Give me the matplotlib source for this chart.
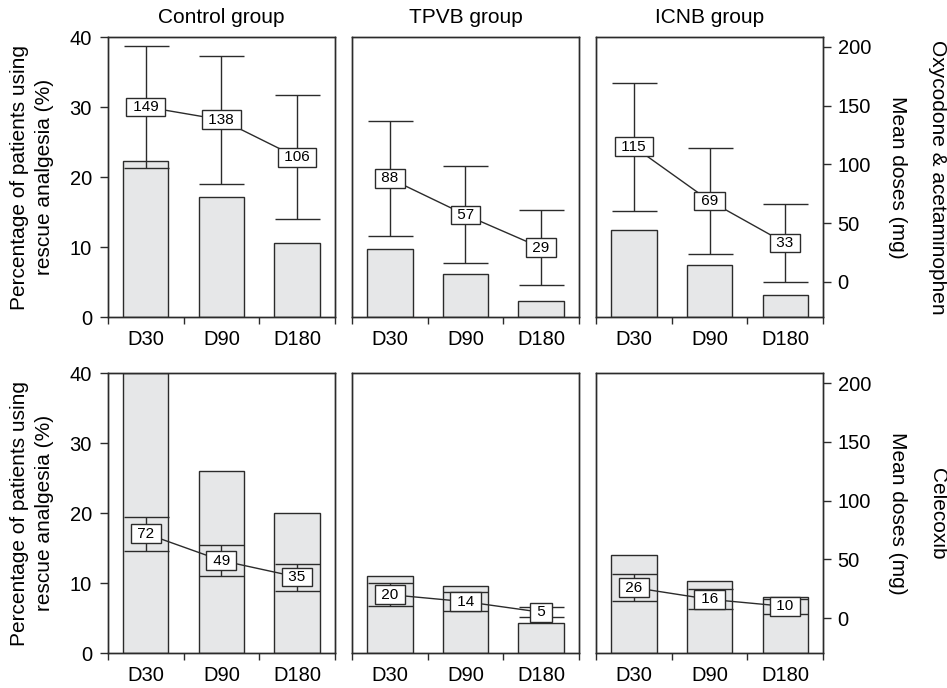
import matplotlib
matplotlib.use("Agg")
import matplotlib.pyplot as plt

plt.rcParams['font.family'] = ['Liberation Sans', 'DejaVu Sans']

# categories
groups = ["Control group", "TPVB group", "ICNB group"]
days = ["D30", "D90", "D180"]

# row 1: oxycodone & acetaminophen
top_pct = [[22.3, 17.1, 10.6], [9.7, 6.1, 2.3], [12.4, 7.4, 3.1]]
top_dose = [[149, 138, 106], [88, 57, 29], [115, 69, 33]]
top_sd = [[51.7, 54.5, 52.8], [49.0, 41.3, 32.0], [54.5, 45.0, 33.4]]

# row 2: celecoxib
bot_pct = [[40.0, 26.0, 20.1], [11.1, 9.6, 4.4], [14.1, 10.4, 8.1]]
bot_dose = [[72, 49, 35], [20, 14, 5], [26, 16, 10]]
bot_sd = [[14.5, 13.4, 11.5], [9.7, 8.2, 4.3], [11.5, 8.6, 6.5]]

drugs = ["Oxycodone & acetaminophen", "Celecoxib"]
rows = [(top_pct, top_dose, top_sd), (bot_pct, bot_dose, bot_sd)]

edge = "#2b2b2b"
barc = "#e6e7e8"
fs = 14.5

fig = plt.figure(figsize=(9.47, 6.88), dpi=100)

lefts = [0.114, 0.3717, 0.6294]
bottoms = [0.5392, 0.0504]
w, h = 0.2397, 0.407

for r, (pct, dose, sd) in enumerate(rows):
    for c in range(3):
        ax = fig.add_axes([lefts[c], bottoms[r], w, h])
        ax2 = ax.twinx()
        x = range(3)
        ax.bar(x, pct[c], width=0.6, color=barc, edgecolor=edge, linewidth=1.0)
        ax.set_ylim(0, 40)
        ax2.set_ylim(-30, 208.5)
        ax.set_xlim(-0.5, 2.5)

        ax2.errorbar(x, dose[c], yerr=sd[c], fmt='none', ecolor=edge,
                     elinewidth=1.0, capsize=16.2, capthick=1.0, zorder=3)
        ax2.plot(x, dose[c], color=edge, lw=1.0, zorder=4)
        for i in x:
            ax2.text(i, dose[c][i], f" {dose[c][i]} ", ha='center', va='center',
                     fontsize=11, zorder=6,
                     bbox=dict(boxstyle='square,pad=0.15', fc='white', ec=edge, lw=1.0))

        # x axis: boundary ticks, category labels
        ax.set_xticks([-0.5, 0.5, 1.5, 2.5])
        ax.set_xticklabels([])
        ax.set_xticks([0, 1, 2], minor=True)
        ax.set_xticklabels(days, minor=True, fontsize=fs)
        ax.tick_params(axis='x', which='major', length=5, width=1.0, color=edge)
        ax.tick_params(axis='x', which='minor', length=0, pad=9)

        ax.set_yticks([0, 10, 20, 30, 40])
        ax2.set_yticks([0, 50, 100, 150, 200])
        ax.tick_params(axis='y', length=5.5, width=1.0, color=edge, labelsize=fs, pad=6)
        ax2.tick_params(axis='y', length=5.5, width=1.0, color=edge, labelsize=fs, pad=5)
        if c != 0:
            ax.tick_params(axis='y', left=False, labelleft=False)
        if c != 2:
            ax2.tick_params(axis='y', right=False, labelright=False)

        for a in (ax, ax2):
            for s in a.spines.values():
                s.set_color(edge)
                s.set_linewidth(1.0)

        if r == 0:
            ax.set_title(groups[c], fontsize=15, pad=10)

# axis titles
for r in range(2):
    yc = bottoms[r] + h / 2
    fig.text(20 / 947, yc, "Percentage of patients using", rotation=90,
             ha='center', va='center', fontsize=15)
    fig.text(44 / 947, yc, "rescue analgesia (%)", rotation=90,
             ha='center', va='center', fontsize=15)
    fig.text(897 / 947, yc, "Mean doses (mg)", rotation=270,
             ha='center', va='center', fontsize=15)
    fig.text(937 / 947, yc, drugs[r], rotation=270,
             ha='center', va='center', fontsize=15)

fig.savefig("out.png", dpi=100)
